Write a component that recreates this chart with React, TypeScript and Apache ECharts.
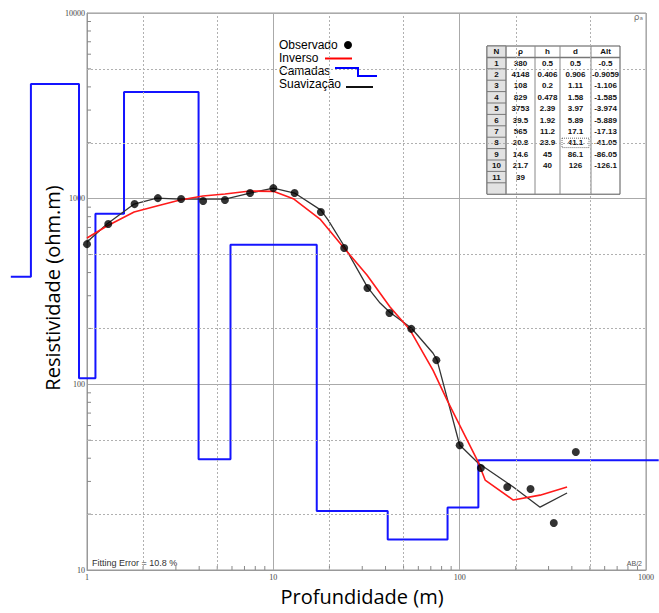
import React, { useEffect, useRef } from "react";
import * as echarts from "echarts";

// ---- Observed apparent resistivity (Observado) ----
const abHalf = [1, 1.3, 1.8, 2.4, 3.2, 4.2, 5.5, 7.5, 10, 13, 18, 24, 32, 42, 55, 75, 100, 130, 180, 240, 320, 420];
const rhoObs = [569, 730, 935, 1007, 995, 971, 983, 1072, 1140, 1072, 847, 542, 330, 242, 199, 135, 47, 35.4, 28, 27.3, 17.9, 43.2];

// ---- Inverse model response (Inverso) ----
const invX = [1, 1.28, 1.79, 2.37, 3.16, 4.19, 5.5, 7.5, 10, 12.9, 17.8, 23.7, 31.8, 42.3, 54.2, 72, 85.6, 96.9, 125.6, 137, 194, 270, 377];
const invY = [614, 712, 847, 912, 983, 1033, 1059, 1099, 1095, 995, 777, 549, 388, 261, 196, 119, 82.3, 64.2, 38.2, 30.5, 23.8, 25.3, 28.0];

// ---- Smoothed curve (Suavização) ----
const smX = [1, 1.28, 1.79, 2.37, 3.16, 4.19, 5.5, 7.5, 10, 13, 18, 19.7, 24, 32, 37.4, 42, 55, 72, 75.6, 100, 125.6, 194, 270, 377];
const smY = [584, 730, 935, 1007, 995, 995, 995, 1072, 1140, 1072, 868, 767, 556, 334, 274, 245, 201, 147, 135, 47.1, 37.7, 28.0, 21.8, 26.0];

// ---- Layer model (Camadas) / table ----
const layerRho = [380, 4148, 108, 829, 3753, 39.5, 565, 20.8, 14.6, 21.7, 39];
const layerH = [0.5, 0.406, 0.2, 0.478, 2.39, 1.92, 11.2, 23.9, 45, 40];
const layerD = [0.5, 0.906, 1.11, 1.58, 3.97, 5.89, 17.1, 41.1, 86.1, 126];
const layerAlt = [-0.5, -0.9059, -1.106, -1.585, -3.974, -5.889, -17.13, -41.05, -86.05, -126.1];
const camStart = 0.39;
const camEnd = 1170;

const tableHeader = ["N", "ρ", "h", "d", "Alt"];

// axis ticks
const minorTickX = [2, 3, 4, 5, 6, 7, 8, 9, 20, 30, 40, 50, 60, 70, 80, 90, 200, 300, 400, 500, 600, 700, 800, 900];
const minorTickY = [20, 30, 40, 50, 60, 70, 80, 90, 200, 300, 400, 500, 600, 700, 800, 900, 2000, 3000, 4000, 5000, 6000, 7000, 8000, 9000];
const dashedGridX = [2, 5, 20, 50, 200, 500];
const dashedGridY = [20, 50, 200, 500, 2000, 5000];

// layout
const GL = 87, GT = 13, GW = 559, GH = 557;
const WIDE_L = 10, WIDE_R = 659;

function buildTable(): any[] {
  const colX = [487, 506, 535, 560, 591, 620];
  const top = 46;
  const rowH = 11.4;
  const nRows = 13;
  const bottom = top + rowH * nRows;
  const els: any[] = [];
  els.push({ type: "rect", shape: { x: colX[0], y: top, width: colX[5] - colX[0], height: bottom - top }, style: { fill: "#fff", stroke: "#555", lineWidth: 1 } });
  els.push({ type: "rect", shape: { x: colX[0], y: top, width: colX[1] - colX[0], height: bottom - top }, style: { fill: "#e2e2e2", stroke: "#777", lineWidth: 1 } });
  for (let c = 1; c < 5; c++) {
    els.push({ type: "line", shape: { x1: colX[c], y1: top, x2: colX[c], y2: bottom }, style: { stroke: "#888", lineWidth: 1 } });
  }
  els.push({ type: "line", shape: { x1: colX[0], y1: top + rowH, x2: colX[5], y2: top + rowH }, style: { stroke: "#777", lineWidth: 1.5 } });
  for (let r = 2; r < nRows; r++) {
    els.push({ type: "line", shape: { x1: colX[0], y1: top + rowH * r, x2: colX[1], y2: top + rowH * r }, style: { stroke: "#777", lineWidth: 1 } });
  }
  const font = 'bold 8px "Liberation Sans", Arial, sans-serif';
  const cell = (c: number, r: number, text: string) => {
    els.push({
      type: "text",
      x: (colX[c] + colX[c + 1]) / 2,
      y: top + rowH * r + rowH / 2,
      style: { text, font, fill: "#111", align: "center", verticalAlign: "middle" },
    });
  };
  tableHeader.forEach((h, c) => cell(c, 0, h));
  layerRho.forEach((rho, i) => {
    cell(0, i + 1, String(i + 1));
    cell(1, i + 1, String(rho));
    if (i < layerH.length) {
      cell(2, i + 1, String(layerH[i]));
      cell(3, i + 1, String(layerD[i]));
      cell(4, i + 1, String(layerAlt[i]));
    }
  });
  els.push({ type: "rect", shape: { x: colX[3] + 2, y: top + rowH * 8 + 1, width: colX[4] - colX[3] - 4, height: rowH - 2 }, style: { fill: "none", stroke: "#444", lineWidth: 0.8, lineDash: [1, 1] } });
  return els;
}

function buildLegend(): any[] {
  const font = '12px "Liberation Sans", Arial, sans-serif';
  const t = (text: string, y: number) => ({ type: "text", x: 279, y, style: { text, font, fill: "#000", align: "left", verticalAlign: "middle" } });
  return [
    t("Observado", 45),
    { type: "circle", shape: { cx: 348, cy: 45, r: 4 }, style: { fill: "#000" } },
    t("Inverso", 58),
    { type: "line", shape: { x1: 325, y1: 58.5, x2: 352, y2: 58.5 }, style: { stroke: "#ff0000", lineWidth: 2 } },
    t("Camadas", 71),
    { type: "polyline", shape: { points: [[335, 68], [358, 68], [358, 76], [377, 76]] }, style: { stroke: "#0000ff", lineWidth: 2, fill: "none" } },
    t("Suavização", 84),
    { type: "line", shape: { x1: 346, y1: 87, x2: 373, y2: 87 }, style: { stroke: "#111", lineWidth: 2 } },
  ];
}

export default function App() {
  const ref = useRef<HTMLDivElement>(null);
  useEffect(() => {
    if (!ref.current) return;
    const chart = echarts.init(ref.current, null, { renderer: "svg" });

    const camData: number[][] = [];
    let topD = camStart;
    layerRho.forEach((rho, i) => {
      const bot = i < layerD.length ? layerD[i] : camEnd;
      camData.push([topD, rho], [bot, rho]);
      topD = bot;
    });

    const tickData = [
      ...minorTickX.map((v) => [v, 10, 0]),
      ...minorTickY.map((v) => [1, v, 1]),
    ];

    // wide (hidden) x axis sharing the same log scale as the main one, for the layer line that spills past the frame
    const decade = GW / 3;
    const wideMin = Math.pow(10, (WIDE_L - GL) / decade);
    const wideMax = Math.pow(10, (WIDE_R - GL) / decade);

    const labelFont = { fontSize: 8, color: "#444", fontFamily: '"Liberation Serif", serif' };

    chart.setOption({
      animation: false,
      backgroundColor: "#fff",
      grid: [
        { left: GL, top: GT, width: GW, height: GH, show: true, borderColor: "#999", borderWidth: 1, backgroundColor: "transparent" },
        { left: WIDE_L, top: GT, width: WIDE_R - WIDE_L, height: GH, show: false },
      ],
      xAxis: [
        {
          type: "log",
          logBase: 10,
          min: 1,
          max: 1000,
          gridIndex: 0,
          axisLine: { show: true, lineStyle: { color: "#999" } },
          axisTick: { show: false },
          axisLabel: { ...labelFont, margin: 3, formatter: (v: number) => String(Math.round(v)) },
          splitLine: { show: true, lineStyle: { color: "#aaa", width: 1, type: "solid" } },
        },
        { type: "log", logBase: 10, min: wideMin, max: wideMax, gridIndex: 1, show: false },
      ],
      yAxis: [
        {
          type: "log",
          logBase: 10,
          min: 10,
          max: 10000,
          gridIndex: 0,
          axisLine: { show: true, lineStyle: { color: "#999" } },
          axisTick: { show: false },
          axisLabel: { ...labelFont, margin: 2, formatter: (v: number) => String(Math.round(v)) },
          splitLine: { show: true, lineStyle: { color: "#aaa", width: 1, type: "solid" } },
        },
        { type: "log", logBase: 10, min: 10, max: 10000, gridIndex: 1, show: false },
      ],
      series: [
        {
          name: "grid-minor",
          type: "line",
          data: [[1, 10]],
          symbol: "none",
          lineStyle: { opacity: 0 },
          silent: true,
          z: 1,
          markLine: {
            silent: true,
            symbol: ["none", "none"],
            label: { show: false },
            lineStyle: { color: "#b0b0b0", width: 1, type: [2, 2] },
            data: [
              ...dashedGridX.map((v) => ({ xAxis: v })),
              ...dashedGridY.map((v) => ({ yAxis: v })),
            ],
          },
        },
        {
          name: "ticks",
          type: "custom",
          silent: true,
          clip: false,
          z: 2,
          data: tickData,
          renderItem: (params: any, api: any) => {
            const kind = api.value(2);
            const p = api.coord([api.value(0), api.value(1)]);
            if (kind === 0) {
              return { type: "line", shape: { x1: p[0], y1: p[1], x2: p[0], y2: p[1] - 4 }, style: { stroke: "#888", lineWidth: 1 } };
            }
            return { type: "line", shape: { x1: p[0], y1: p[1], x2: p[0] + 4, y2: p[1] }, style: { stroke: "#888", lineWidth: 1 } };
          },
        },
        {
          name: "Camadas",
          type: "line",
          xAxisIndex: 1,
          yAxisIndex: 1,
          data: camData,
          symbol: "none",
          clip: false,
          lineStyle: { color: "#1414ff", width: 2 },
          z: 3,
        },
        {
          name: "Suavização",
          type: "line",
          data: smX.map((x, i) => [x, smY[i]]),
          symbol: "none",
          lineStyle: { color: "#333", width: 1.3 },
          z: 4,
        },
        {
          name: "Inverso",
          type: "line",
          data: invX.map((x, i) => [x, invY[i]]),
          symbol: "none",
          lineStyle: { color: "#ff1a1a", width: 1.6 },
          z: 5,
        },
        {
          name: "Observado",
          type: "scatter",
          data: abHalf.map((x, i) => [x, rhoObs[i]]),
          symbol: "circle",
          symbolSize: 8,
          itemStyle: { color: "#000" },
          z: 6,
        },
      ],
      graphic: [
        ...buildLegend(),
        ...buildTable(),
        { type: "text", x: 92, y: 563, style: { text: "Fitting Error = 10.8 %", font: '9px "Liberation Sans", Arial, sans-serif', fill: "#333", align: "left", verticalAlign: "middle" } },
        { type: "text", x: 642, y: 563, style: { text: "AB/2", font: '7px "Liberation Sans", Arial, sans-serif', fill: "#555", align: "right", verticalAlign: "middle" } },
        { type: "text", x: 643, y: 17, style: { text: "ρₐ", font: '9px "DejaVu Sans", sans-serif', fill: "#777", align: "right", verticalAlign: "middle" } },
        { type: "text", x: 362, y: 596, style: { text: "Profundidade (m)", font: '20px "Open Sans", sans-serif', fill: "#000", align: "center", verticalAlign: "middle" } },
        { type: "text", x: 52, y: 288, rotation: Math.PI / 2, style: { text: "Resistividade (ohm.m)", font: '20px "Open Sans", sans-serif', fill: "#000", align: "center", verticalAlign: "middle" } },
      ],
    });
    return () => chart.dispose();
  }, []);
  return <div ref={ref} style={{ position: "fixed", left: 0, top: 0, width: 659, height: 613, background: "#fff" }} />;
}
